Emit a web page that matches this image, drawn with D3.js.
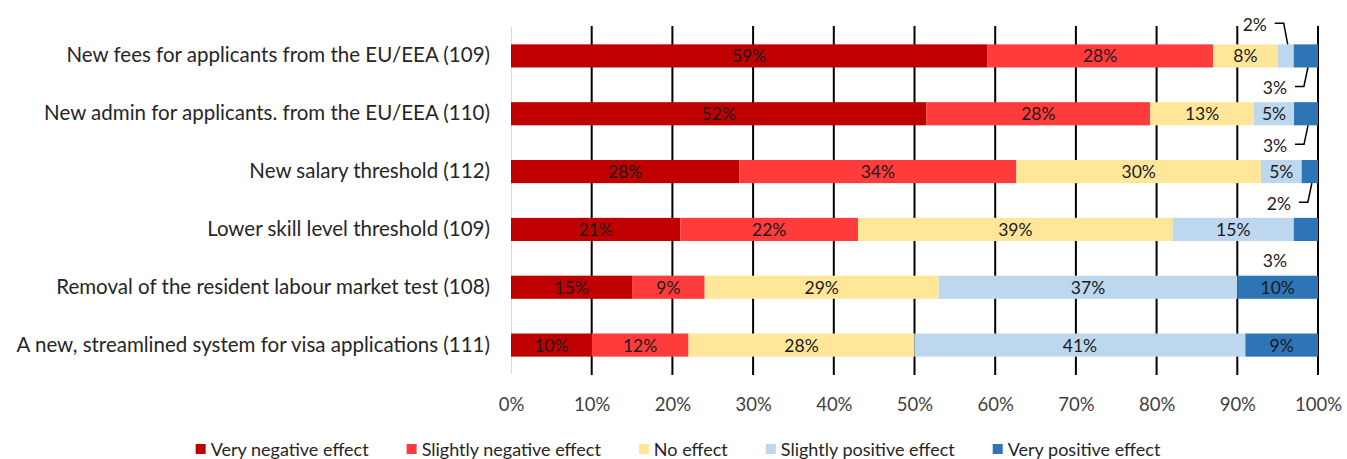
<!DOCTYPE html>
<html>
<head>
<meta charset="utf-8">
<script src="https://cdn.jsdelivr.net/npm/d3@7"></script>
<style>
  html, body { margin: 0; padding: 0; background: #fff; }
  svg { display: block; font-family: Lato, "Open Sans", sans-serif; }
</style>
</head>
<body>
<svg id="chart" width="1347" height="459"></svg>
<script>
// Survey question categories (number of respondents in brackets)
const categories = [
  "New fees for applicants from the EU/EEA (109)",
  "New admin for applicants. from the EU/EEA (110)",
  "New salary threshold (112)",
  "Lower skill level threshold (109)",
  "Removal of the resident labour market test (108)",
  "A new, streamlined system for visa applications (111)"
];

const seriesNames = [
  "Very negative effect",
  "Slightly negative effect",
  "No effect",
  "Slightly positive effect",
  "Very positive effect"
];

// Share of respondents (%) per category
const veryNegative     = [59, 52, 28, 21, 15, 10];
const slightlyNegative = [28, 28, 34, 22,  9, 12];
const noEffect         = [ 8, 13, 30, 39, 29, 28];
const slightlyPositive = [ 2,  5,  5, 15, 37, 41];
const veryPositive     = [ 3,  3,  2,  3, 10,  9];

const tickValues = [0, 0.1, 0.2, 0.3, 0.4, 0.5, 0.6, 0.7, 0.8, 0.9, 1];
const tickLabels = ["0%", "10%", "20%", "30%", "40%", "50%", "60%", "70%", "80%", "90%", "100%"];

const colors = ["#C00000", "#FF3B3B", "#FFE699", "#BDD7EE", "#2E75B6"];

// Build rows for the stack layout
const seriesValues = [veryNegative, slightlyNegative, noEffect, slightlyPositive, veryPositive];
const rows = categories.map((c, i) => {
  const r = { category: c };
  seriesNames.forEach((s, j) => { r[s] = seriesValues[j][i]; });
  return r;
});

// Small segments whose labels sit outside the bar
const callouts = [
  { row: 0, series: "Slightly positive effect", side: "above", leader: true },
  { row: 0, series: "Very positive effect", side: "below", leader: true },
  { row: 1, series: "Very positive effect", side: "below", leader: true },
  { row: 2, series: "Very positive effect", side: "below", leader: true },
  { row: 3, series: "Very positive effect", side: "below", leader: false }
];

const svg = d3.select("#chart");
const W = 1347, H = 459;
const margin = { top: 27, right: 29, bottom: 85, left: 511 };
const innerW = W - margin.left - margin.right;
const innerH = H - margin.top - margin.bottom;

const g = svg.append("g").attr("transform", `translate(${margin.left},${margin.top})`);

const x = d3.scaleLinear().domain([0, 1]).range([0, innerW]);
const y = d3.scaleBand().domain(categories).range([0, innerH])
  .paddingInner(0.6).paddingOuter(0.3);

const stack = d3.stack().keys(seriesNames).offset(d3.stackOffsetExpand);
const stacked = stack(rows);

// Vertical gridlines (behind the bars)
g.append("g").selectAll("line")
  .data(tickValues.filter(t => t > 0))
  .join("line")
  .attr("x1", d => x(d)).attr("x2", d => x(d))
  .attr("y1", -1).attr("y2", innerH + 1)
  .attr("stroke", "#000").attr("stroke-width", 2);

// Category axis line at 0%
g.append("line")
  .attr("x1", 0.5).attr("x2", 0.5).attr("y1", 0).attr("y2", innerH)
  .attr("stroke", "#d9d9d9").attr("stroke-width", 1);

// Bars
const layers = g.append("g").selectAll("g")
  .data(stacked)
  .join("g")
  .attr("fill", (d, i) => colors[i]);

layers.selectAll("rect")
  .data(d => d.map(p => Object.assign(p, { key: d.key })))
  .join("rect")
  .attr("x", d => x(d[0]))
  .attr("width", d => x(d[1]) - x(d[0]))
  .attr("y", d => y(d.data.category))
  .attr("height", y.bandwidth());

// Labels inside segments
const labelFont = 17.5;
const insideLabels = [];
stacked.forEach(layer => {
  layer.forEach(p => {
    const v = p.data[layer.key];
    if (v >= 5) insideLabels.push({ x: (x(p[0]) + x(p[1])) / 2, y: y(p.data.category) + y.bandwidth() / 2, text: v + "%" });
  });
});
g.append("g").selectAll("text")
  .data(insideLabels)
  .join("text")
  .attr("x", d => d.x).attr("y", d => d.y)
  .attr("text-anchor", "middle").attr("dominant-baseline", "central")
  .attr("font-size", labelFont).attr("fill", "#1a1a1a")
  .text(d => d.text);

// Labels for the thin segments, with leader lines
const outG = g.append("g");
callouts.forEach(c => {
  const layer = stacked.find(l => l.key === c.series);
  const p = layer[c.row];
  const cx = (x(p[0]) + x(p[1])) / 2;
  const top = y(p.data.category);
  const edge = c.side === "above" ? top : top + y.bandwidth();
  const ly = c.side === "above" ? edge - 20 : edge + 20;
  outG.append("text")
    .attr("x", cx - 31).attr("y", ly)
    .attr("text-anchor", "middle").attr("dominant-baseline", "central")
    .attr("font-size", labelFont).attr("fill", "#1a1a1a")
    .text(p.data[c.series] + "%");
  if (c.leader) {
    outG.append("path")
      .attr("d", `M${cx - 11},${ly - 1}H${cx - 2}L${cx + 2},${edge}`)
      .attr("fill", "none").attr("stroke", "#000").attr("stroke-width", 1.5);
  }
});

// Percentage axis
const xAxis = d3.axisBottom(x).tickValues(tickValues)
  .tickFormat((d, i) => tickLabels[i]).tickSize(0).tickPadding(0);
const xg = g.append("g").attr("transform", `translate(0,${innerH})`).call(xAxis);
xg.select(".domain").remove();
xg.selectAll("text")
  .attr("y", 31).attr("dy", "0.35em")
  .attr("font-size", 18.5).attr("font-family", "Lato, sans-serif").attr("fill", "#404040");

// Category axis
const yAxis = d3.axisLeft(y).tickSize(0).tickPadding(21);
const yg = g.append("g").call(yAxis);
yg.select(".domain").remove();
yg.selectAll("text")
  .attr("font-size", 20.5).attr("font-family", "Lato, sans-serif").attr("fill", "#262626");

// Legend
const legend = svg.append("g");
let cursor = 0;
seriesNames.forEach((s, i) => {
  const item = legend.append("g");
  item.append("rect").attr("x", 0).attr("y", -5).attr("width", 10).attr("height", 10).attr("fill", colors[i]);
  const t = item.append("text").attr("x", 15).attr("y", 0).attr("dominant-baseline", "central")
    .attr("font-size", 18).attr("fill", "#262626").text(s);
  const w = 15 + t.node().getComputedTextLength();
  item.attr("transform", `translate(${cursor},0)`);
  cursor += w + 38;
});
const legendW = cursor - 38;
legend.attr("transform", `translate(${678 - legendW / 2},449)`);
</script>
</body>
</html>
